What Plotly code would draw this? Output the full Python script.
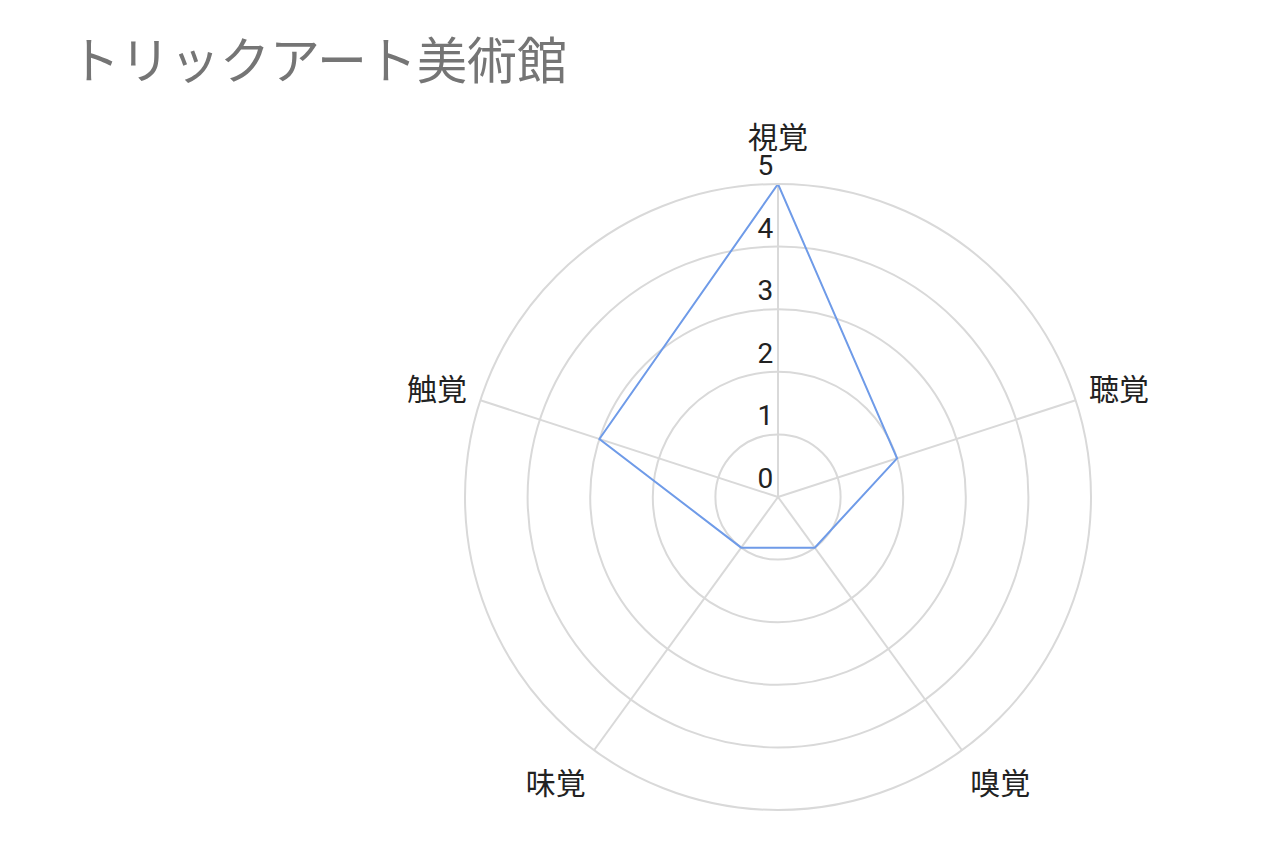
import plotly.graph_objects as go

# Data
categories = ['視覚', '聴覚', '嗅覚', '味覚', '触覚']
scores = [5, 2, 1, 1, 3]
tick_vals = [0, 1, 2, 3, 4, 5]
tick_text = ['0', '1', '2', '3', '4', '5']

GRID = '#d9d9d9'
LINE_BLUE = '#6f9be8'
TEXT = '#222222'
FONT = 'Roboto, "Noto Sans CJK JP", sans-serif'

# close the polygon by repeating the first point
r_closed = scores + scores[:1]
theta_closed = categories + categories[:1]

# labels drawn at 30px inside a 15px tick font; short blank lines nudge
# the top label up and the two bottom labels down, away from the ring
cat_text = ['<span style="font-size:30px">%s</span>' % c for c in categories]
cat_text[0] += '<br> '
cat_text[2] = ' <br>' + cat_text[2]
cat_text[3] = ' <br>' + cat_text[3]

fig = go.Figure()

fig.add_trace(go.Scatterpolar(
    r=r_closed,
    theta=theta_closed,
    mode='lines',
    line=dict(color=LINE_BLUE, width=2),
    showlegend=False,
    hoverinfo='skip'
))

fig.update_layout(
    width=1280,
    height=853,
    paper_bgcolor='white',
    plot_bgcolor='white',
    margin=dict(l=0, r=0, t=0, b=0),
    title=dict(
        text='トリックアート美術館',
        x=62 / 1280,
        xanchor='left',
        y=1 - 53 / 853,
        yanchor='middle',
        font=dict(family=FONT, size=50, color='#757575')
    ),
    polar=dict(
        domain=dict(x=[457 / 1280, 1083 / 1280], y=[51 / 853, 677 / 853]),
        bgcolor='white',
        radialaxis=dict(
            range=[0, 5],
            tickvals=tick_vals,
            # trailing blank line lifts each label above its gridline
            ticktext=[t + '<br> ' for t in tick_text],
            angle=90,
            tickangle=90,
            side='counterclockwise',
            showline=False,
            ticks='',
            gridcolor=GRID,
            gridwidth=2,
            tickfont=dict(family=FONT, size=28, color=TEXT)
        ),
        angularaxis=dict(
            direction='clockwise',
            rotation=90,
            tickmode='array',
            tickvals=categories,
            ticktext=cat_text,
            showline=True,
            linecolor=GRID,
            linewidth=2,
            gridcolor=GRID,
            gridwidth=2,
            ticks='outside',
            ticklen=10,
            tickcolor='rgba(0,0,0,0)',
            tickfont=dict(family=FONT, size=15, color=TEXT)
        )
    )
)

fig.write_html('out.html')
